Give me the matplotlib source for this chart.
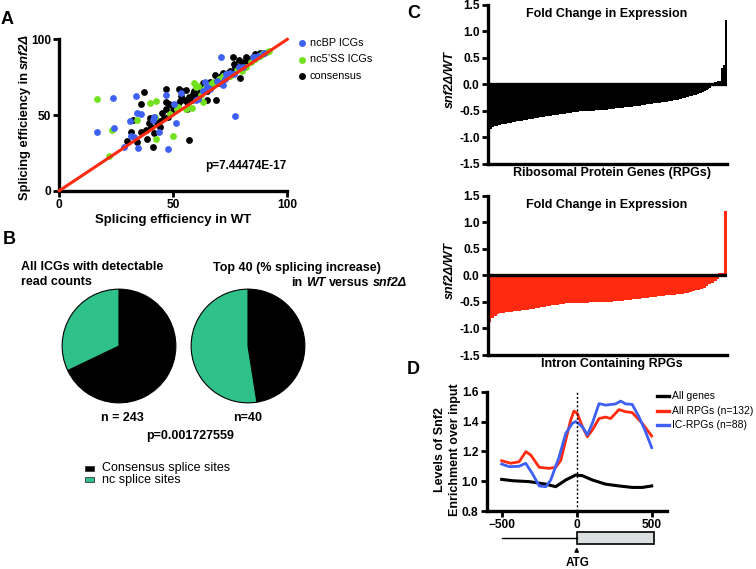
import matplotlib
matplotlib.use('Agg')
import matplotlib.pyplot as plt
from matplotlib.lines import Line2D
from matplotlib.patches import Rectangle
from matplotlib.transforms import IdentityTransform
import numpy as np

# ---------------- data ----------------
# Panel A: splicing efficiency (WT, snf2D)
cons_x = [29.8, 31.6, 32.5, 34, 35.7, 37.3, 38.3, 39.5, 39.8, 40.2, 41.2, 41.7, 42.7, 44, 46.8, 46.8, 47, 47.8,
          49.7, 52.3, 53.4, 54, 55.5, 56, 57, 56, 58.8, 61, 63, 64.6, 68.3, 68.7, 72, 76, 76.6, 79.2, 82, 88,
          60, 62, 63.5, 65, 66, 67, 69, 70, 71, 73, 74, 75, 77, 78, 80, 81, 83, 84, 85, 86, 87, 89, 90, 58, 57,
          59, 61, 50, 52, 44, 46, 38, 36, 45, 48, 55, 53, 64, 66, 72, 74, 80, 82, 84, 86, 88, 77, 79, 63, 65, 70, 71]
cons_y = [33, 39, 47, 32.4, 57, 65.4, 34, 44.5, 47.8, 42.3, 29, 38, 44.5, 42.3, 67, 58.8, 54, 49,
          52.6, 67, 62.6, 66, 66.5, 58.8, 33.5, 53.7, 64, 68, 71, 60, 76.4, 60, 77.5, 88, 84, 74.7, 88.5, 89.6,
          63, 65, 66, 68, 70, 69, 73, 74, 73, 76, 78, 79, 80, 82, 84, 85, 86, 87, 88, 88, 89, 90, 91, 60, 62,
          66, 62, 55, 57, 46, 48, 40, 39, 51, 57, 60, 59, 67, 72, 75, 76, 82, 85, 86, 90, 91, 82, 86, 69, 66, 71, 76]
nc5_x = [16.4, 23, 21.9, 39.8, 42.4, 42.4, 41.8, 48.5, 50, 51.5, 55.6, 58, 59.2, 60, 62.9, 63, 65, 67, 70, 72,
         75, 78, 80, 82, 84, 86, 88, 89, 90, 91, 92, 61, 64, 34, 52, 57, 74, 68, 62]
nc5_y = [60.6, 40, 23, 58, 59.5, 34, 48.5, 50.7, 36, 54, 54, 54.4, 71, 68.7, 58.8, 66.5, 70, 71, 74, 76,
         76, 80, 79, 82, 85, 87, 89, 90, 91, 91.5, 92, 69, 68, 47, 55, 55, 77, 72, 63]
ncbp_x = [16.4, 23.7, 24, 28.4, 31, 32.7, 33.6, 34, 35.7, 34.5, 41.5, 43.9, 46.8, 47.5, 51.2, 50.3, 53.2, 60, 61,
          65, 70.8, 69, 71, 71.6, 74.9, 76.5, 77.2, 79, 80.4, 85, 86, 66, 73, 72.5, 64, 63, 87, 90, 41, 31.5]
ncbp_y = [39, 61, 41.6, 29, 46, 35.7, 62.6, 51, 50.4, 28.4, 49, 38.5, 63, 27.8, 45, 57, 64.5, 60, 60.5,
          68.7, 88, 72.7, 71, 70, 78, 77, 49.3, 81.5, 81.5, 88.5, 88, 67, 77, 74, 72, 66, 89, 91, 47, 36]
a_labels = ["ncBP ICGs", "nc5\u2019SS ICGs", "consensus"]

# Panel B: pies (consensus, nc)
pie_all = [165, 78]
pie_top = [19, 21]
pie_labels = ["Consensus splice sites", "nc splice sites"]

# Panel C: fold change snf2D/WT
rpg_fc = [-0.87, -0.84, -0.80, -0.78, -0.77, -0.76, -0.75, -0.745, -0.74, -0.73,
          -0.725, -0.72, -0.71, -0.70, -0.695, -0.69, -0.685, -0.68, -0.675, -0.67,
          -0.66, -0.655, -0.65, -0.64, -0.635, -0.63, -0.625, -0.62, -0.61, -0.605,
          -0.60, -0.595, -0.59, -0.585, -0.58, -0.575, -0.57, -0.565, -0.56, -0.555,
          -0.55, -0.545, -0.54, -0.535, -0.53, -0.525, -0.52, -0.515, -0.51, -0.505,
          -0.50, -0.50, -0.50, -0.495, -0.495, -0.49, -0.49, -0.485, -0.485, -0.48,
          -0.48, -0.475, -0.475, -0.47, -0.47, -0.465, -0.46, -0.46, -0.455, -0.45,
          -0.445, -0.44, -0.44, -0.435, -0.43, -0.425, -0.42, -0.42, -0.415, -0.41,
          -0.405, -0.40, -0.395, -0.39, -0.385, -0.38, -0.375, -0.37, -0.365, -0.36,
          -0.355, -0.35, -0.345, -0.34, -0.335, -0.33, -0.33, -0.325, -0.32, -0.31,
          -0.305, -0.30, -0.29, -0.285, -0.28, -0.27, -0.26, -0.25, -0.245, -0.235,
          -0.225, -0.215, -0.205, -0.195, -0.185, -0.17, -0.16, -0.145, -0.13, -0.11,
          -0.09, -0.075, -0.05, -0.03, -0.01, 0.03, 0.04, 0.05, 0.05, 0.30, 0.35, 1.20]
icrpg_fc = [-0.86, -0.80, -0.75, -0.72, -0.70, -0.695, -0.69, -0.685, -0.68, -0.67,
            -0.665, -0.66, -0.65, -0.64, -0.635, -0.625, -0.62, -0.61, -0.60, -0.59,
            -0.58, -0.575, -0.565, -0.555, -0.545, -0.54, -0.53, -0.525, -0.52, -0.52,
            -0.515, -0.515, -0.51, -0.51, -0.51, -0.505, -0.505, -0.50, -0.50, -0.50,
            -0.50, -0.495, -0.49, -0.49, -0.485, -0.485, -0.48, -0.475, -0.47, -0.465,
            -0.46, -0.455, -0.45, -0.44, -0.435, -0.43, -0.42, -0.415, -0.41, -0.40,
            -0.395, -0.39, -0.385, -0.38, -0.375, -0.37, -0.365, -0.36, -0.355, -0.35,
            -0.345, -0.34, -0.33, -0.32, -0.305, -0.29, -0.275, -0.26, -0.24, -0.22,
            -0.19, -0.16, -0.13, -0.10, -0.05, 0.03, 0.03, 1.20]

# Panel D: Snf2 enrichment profiles around ATG
pos_all = [-500, -428, -317, -206, -140, -73, -7, 38, 104, 193, 282, 370, 437, 500]
enr_all = [1.012, 1.003, 0.997, 0.98, 0.963, 1.008, 1.041, 1.037, 1.008, 0.98, 0.968, 0.958, 0.958, 0.968]
pos_rpg = [-500, -440, -384, -339, -306, -250, -184, -140, -106, -73, -40, -18, 4, 38, 71, 104, 149, 193, 226,
           282, 326, 370, 437, 500]
enr_rpg = [1.137, 1.12, 1.13, 1.198, 1.175, 1.093, 1.086, 1.093, 1.14, 1.276, 1.41, 1.47, 1.455, 1.365, 1.298,
           1.343, 1.42, 1.43, 1.42, 1.48, 1.466, 1.46, 1.388, 1.303]
pos_ic = [-500, -450, -384, -340, -295, -250, -206, -173, -117, -73, -29, -7, 38, 71, 104, 149, 193, 259, 293,
          326, 370, 415, 459, 500]
enr_ic = [1.115, 1.097, 1.10, 1.12, 1.05, 0.968, 0.963, 1.008, 1.164, 1.32, 1.388, 1.40, 1.365, 1.31, 1.388,
          1.52, 1.51, 1.518, 1.537, 1.518, 1.515, 1.432, 1.332, 1.225]
d_labels = ["All genes", "All RPGs (n=132)", "IC-RPGs (n=88)"]

# ---------------- style ----------------
W, H = 756, 569
plt.rcParams['font.family'] = ['Liberation Sans', 'DejaVu Sans']
plt.rcParams['font.weight'] = 'bold'
plt.rcParams['axes.linewidth'] = 2.4

BLUE = '#3f60f4'
GREEN = '#72e21e'
RED = '#ff2a10'
TEAL = '#2ec189'

fig = plt.figure(figsize=(W / 100, H / 100), dpi=100)
renderer = fig.canvas.get_renderer()
ID = IdentityTransform()


def axpx(l, t, r, b):
    return fig.add_axes([l / W, 1 - b / H, (r - l) / W, (b - t) / H])


def fx(x):
    return x / W


def fy(y):
    return 1 - y / H


def txt(x, y, s, size=9, weight='bold', style='normal', ha='center', va='center', rot=0):
    return fig.text(x, H - y, s, fontsize=size, fontweight=weight, fontstyle=style, ha=ha, va=va,
                    rotation=rot, rotation_mode='anchor', transform=ID)


def space_w(size):
    a = fig.text(0, 0, "x x", fontsize=size, fontweight='bold', transform=ID)
    b = fig.text(0, 0, "xx", fontsize=size, fontweight='bold', transform=ID)
    w = a.get_window_extent(renderer).width - b.get_window_extent(renderer).width
    a.remove(); b.remove()
    return w


def rich(x, y, pieces, size=9, rot=0, align='center'):
    objs = [fig.text(0, 0, s, fontsize=size, fontweight='bold', fontstyle=st, rotation=rot,
                     rotation_mode='anchor', ha='left', va='center', transform=ID) for s, st in pieces]
    ws = []
    for t in objs:
        bb = t.get_window_extent(renderer)
        ws.append(bb.width if rot == 0 else bb.height)
    sp = space_w(size)
    total = sum(ws) + sp * (len(ws) - 1)
    if rot == 0:
        start = x - total / 2 if align == 'center' else x
        cur = start
        for t, w in zip(objs, ws):
            t.set_position((cur, H - y))
            cur += w + sp
    else:
        cur = (H - y) - total / 2
        for t, w in zip(objs, ws):
            t.set_position((x, cur))
            cur += w + sp


def style_ax(ax):
    for s in ['top', 'right']:
        ax.spines[s].set_visible(False)
    ax.tick_params(direction='out', length=4, width=2, labelsize=8.6, pad=2)
    for lab in ax.get_xticklabels() + ax.get_yticklabels():
        lab.set_fontweight('bold')


# ---------------- Panel A ----------------
axA = axpx(59.3, 39.3, 287.3, 190.7)
axA.set_xlim(0, 100)
axA.set_ylim(0, 100)
axA.plot([0, 100], [0, 100], color=RED, lw=2.2, zorder=4, clip_on=False)
axA.scatter(cons_x, cons_y, s=24, color='black', lw=0, zorder=3)
axA.scatter(nc5_x, nc5_y, s=24, color=GREEN, lw=0, zorder=3)
axA.scatter(ncbp_x, ncbp_y, s=24, color=BLUE, lw=0, zorder=3)
axA.set_xticks([0, 50, 100])
axA.set_yticks([0, 50, 100])
style_ax(axA)
txt(286, 166, "p=7.44474E-17", size=8.5, ha='right')
txt(173, 220, "Splicing efficiency in WT", size=9.5)
rich(25, 117, [("Splicing efficiency in", 'normal'), ("snf2\u0394", 'italic')], size=9.3, rot=90)
for i, (lab, col) in enumerate(zip(a_labels, [BLUE, GREEN, 'black'])):
    yy = 43 + i * 16.5
    fig.add_artist(Line2D([fx(302)], [fy(yy)], marker='o', ms=5, color=col, mew=0, transform=fig.transFigure))
    txt(310, yy, lab, size=7.8, weight='normal', ha='left')
txt(1, 19, "A", size=13, ha='left')

# ---------------- Panel B ----------------
txt(3, 239, "B", size=13, ha='left')
for (cx, vals) in [(119, pie_all), (248, pie_top)]:
    r = 58
    axp = axpx(cx - r, 346 - r, cx + r, 346 + r)
    axp.pie(vals, colors=['black', TEAL], startangle=90, counterclock=False, radius=1,
            wedgeprops=dict(edgecolor='black', linewidth=0.8))
    axp.set_xlim(-1.02, 1.02)
    axp.set_ylim(-1.02, 1.02)
    axp.set_aspect('equal')
    axp.axis('off')
txt(21, 267, "All ICGs with detectable", size=9, ha='left')
txt(21, 282, "read counts", size=9, ha='left')
txt(213, 268, "Top 40 (% splicing increase)", size=9, ha='left')
rich(291, 283, [("in", 'normal'), ("WT", 'italic'), ("versus", 'normal'), ("snf2\u0394", 'italic')],
     size=9, align='left')
txt(122, 418, "n = 243", size=9)
txt(248, 418, "n=40", size=9)
txt(190, 436, "p=0.001727559", size=9)
for i, (lab, col) in enumerate(zip(pie_labels, ['black', TEAL])):
    yy = 468 + i * 11.5
    fig.add_artist(Rectangle((fx(85), fy(yy + 2.5)), 9 / W, 5 / H, facecolor=col, edgecolor='#333333',
                             linewidth=0.6, transform=fig.transFigure))
    txt(102, yy, lab, size=9, weight='normal', ha='left')

# ---------------- Panel C ----------------
txt(407, 14, "C", size=13, ha='left')
txt(407, 370, "D", size=13, ha='left')
for (top, bot, vals, col, xl) in [(4.7, 164, rpg_fc, 'black', "Ribosomal Protein Genes (RPGs)"),
                                  (195.7, 355, icrpg_fc, RED, "Intron Containing RPGs")]:
    ax = axpx(488, top, 727, bot)
    n = len(vals)
    bars = ax.bar(np.arange(n), vals, width=1.0, color=col, linewidth=0, antialiased=False)
    for b in bars:
        b.set_snap(False)
    ax.axhline(0, color='black', lw=2.4, zorder=3)
    ax.set_xlim(-0.5, n - 0.5)
    ax.set_ylim(-1.5, 1.5)
    ax.set_yticks([-1.5, -1.0, -0.5, 0.0, 0.5, 1.0, 1.5])
    ax.set_yticklabels(["-1.5", "-1.0", "-0.5", "0.0", "0.5", "1.0", "1.5"])
    ax.set_xticks([])
    style_ax(ax)
    txt(607, top + 9, "Fold Change in Expression", size=9)
    txt(612, bot + 9, xl, size=9)
    txt(450, (top + bot) / 2 - 5, "snf2\u0394/WT", size=9, style='italic', rot=90)

# ---------------- Panel D ----------------
axD = axpx(486.7, 391.7, 666.7, 511)
axD.plot(pos_all, enr_all, color='black', lw=2.2)
axD.plot(pos_rpg, enr_rpg, color=RED, lw=2.0)
axD.plot(pos_ic, enr_ic, color=BLUE, lw=2.0)
axD.axvline(0, color='black', lw=1, ls=(0, (1.5, 1.5)))
axD.set_xlim(-600, 600)
axD.set_ylim(0.8, 1.6)
axD.set_xticks([-500, 0, 500])
axD.set_yticks([0.8, 1.0, 1.2, 1.4, 1.6])
axD.set_yticklabels(["0.8", "1.0", "1.2", "1.4", "1.6"])
style_ax(axD)
txt(440, 450, "Levels of Snf2", size=9, rot=90)
txt(455, 450, "Enrichment over input", size=9, rot=90)
for i, (lab, col) in enumerate(zip(d_labels, ['black', RED, BLUE])):
    yy = 396 + i * 14.5
    fig.add_artist(Line2D([fx(657), fx(669)], [fy(yy), fy(yy)], color=col, lw=2.4, transform=fig.transFigure))
    txt(672, yy, lab, size=7.5, weight='normal', ha='left')

# gene diagram
axG = axpx(486.7, 525, 666.7, 569)
axG.set_xlim(-600, 600)
axG.set_ylim(569, 525)
axG.axis('off')
axG.plot([-500, 0], [537.5, 537.5], color='black', lw=1)
axG.add_patch(Rectangle((0, 531.7), 515, 12.3, facecolor='#dcdfdf', edgecolor='black', lw=1.2))
axG.annotate("", xy=(0, 544.5), xytext=(0, 554),
             arrowprops=dict(arrowstyle='-|>', color='black', lw=1, mutation_scale=6))
txt(577.7, 563, "ATG", size=8.5)

fig.savefig("out.png", dpi=100)
